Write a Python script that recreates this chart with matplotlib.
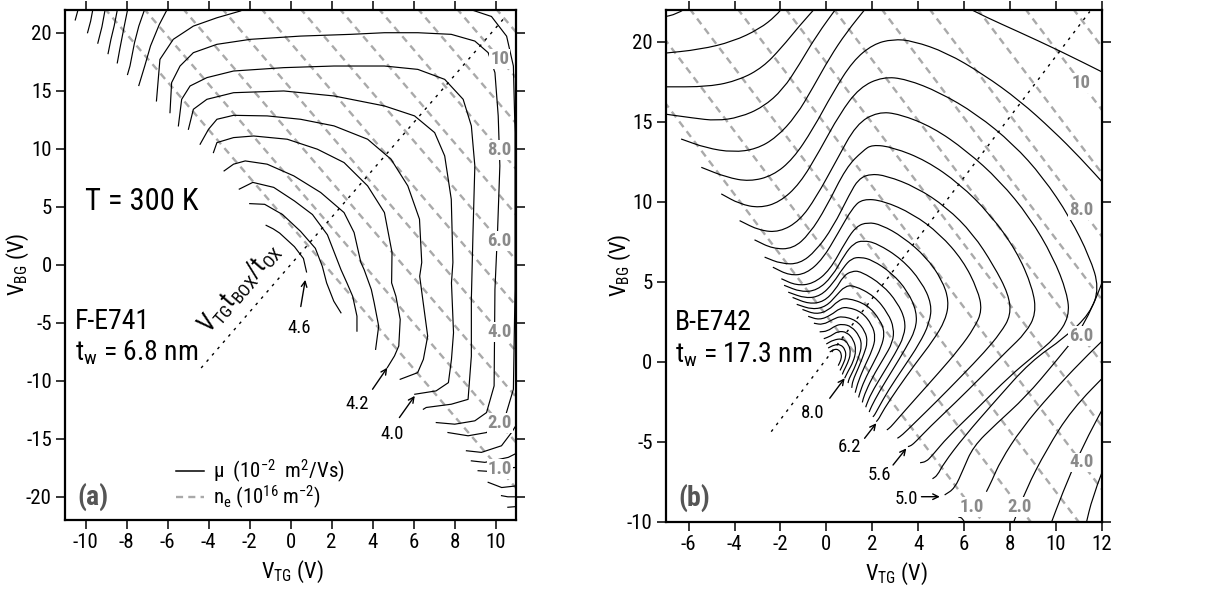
import numpy as np
import matplotlib
matplotlib.use('Agg')
import matplotlib.pyplot as plt
from matplotlib import font_manager
from matplotlib.path import Path
from matplotlib.patches import PathPatch

names = {f.name for f in font_manager.fontManager.ttflist}
FONT, FS = 'Liberation Sans', 0.92
for cand in ['Liberation Sans Narrow', 'Arial Narrow', 'Roboto Condensed']:
    if cand in names:
        FONT, FS = cand, 1.0
        break
plt.rcParams['font.family'] = [FONT, 'DejaVu Sans']
plt.rcParams['mathtext.fontset'] = 'custom'
plt.rcParams['mathtext.rm'] = FONT
plt.rcParams['mathtext.it'] = FONT + ':italic'
plt.rcParams['mathtext.bf'] = FONT + ':bold'
plt.rcParams['axes.unicode_minus'] = False

# ---------------- panel (a) data : mobility contours (V_TG, V_BG) ----------------
a_k01 = [(-1.19,3.40),(-0.85,3.1),(-0.53,2.73),(0.19,1.56),(0.63,0.54),(0.78,-0.62)]
a_k02 = [(-1.99,5.27),(-1.26,5.21),(-0.39,4.33),(0.49,2.88),(1.21,1.42),(1.55,-0.13),(1.76,-1.56),(2.11,-3.14),(2.46,-4.14)]
a_k03 = [(-2.5,6.52),(-1.84,7.1),(-0.82,6.67),(0.19,5.5),(1.07,4.33),(1.8,2.58),(2.46,-0.42),(2.75,-1.56),(3.03,-2.71),(3.24,-4.43),(3.24,-5.72)]
a_k04 = [(-3.24,8.09),(-2.78,8.67),(-2.21,8.95),(-1.14,8.67),(0.16,7.66),(1.47,6.23),(2.61,4.5),(3.1,2.78),(3.43,0.2),(3.59,-0.42),(3.94,-2.13),(4.08,-3.28),(4.3,-5.29),(4.15,-7.29)]
a_k05 = [(-3.76,9.67),(-3.59,10.53),(-2.78,10.96),(-1.8,11.1),(-0.16,10.82),(1.31,9.96),(2.61,8.81),(3.76,6.8),(4.58,4.5),(4.95,1.06),(4.93,-1.56),(5.14,-2.71),(5.35,-4.71),(5.28,-7.0),(5.07,-7.86),(4.72,-8.87)]
a_k06 = [(-4.41,10.39),(-4.0,11.68),(-3.59,12.54),(-2.78,12.88),(-1.14,12.83),(0.49,12.54),(2.12,11.97),(3.76,10.82),(4.9,9.1),(5.72,6.8),(6.29,3.93),(6.4,0.2),(6.3,-0.99),(6.45,-2.99),(6.69,-6.15),(6.48,-8.15),(6.2,-9.3),(5.35,-9.87)]
a_k07 = [(-4.98,11.68),(-4.74,13.4),(-4.08,14.26),(-2.78,14.83),(-0.33,14.98),(2.12,14.55),(4.58,13.69),(6.05,12.83),(7.03,11.39),(7.52,9.38),(7.84,5.65),(7.92,0.2),(7.85,-1.56),(7.95,-5.86),(7.85,-8.15),(7.7,-10.16),(7.1,-10.87),(6.06,-11.16)]
a_k08 = [(-5.47,11.97),(-5.31,14.26),(-4.9,15.41),(-4.08,16.13),(-2.78,16.7),(-0.33,16.99),(2.12,17.13),(4.58,17.13),(6.21,16.84),(7.52,15.98),(8.42,14.26),(8.82,11.97),(8.99,8.52),(8.9,2.78),(8.82,-2.96),(8.82,-7.87),(8.66,-11.6),(7.84,-12.02),(6.62,-12.3),(6.48,-12.45)]
a_k09 = [(-5.88,13.11),(-5.8,15.7),(-5.39,17.13),(-4.74,18.28),(-3.59,19.0),(-1.96,19.43),(0.49,19.71),(2.94,19.86),(4.58,20.0),(6.21,20.0),(7.84,19.86),(8.99,19.28),(9.64,18.28),(9.97,16.56),(10.13,12.83),(10.21,8.52),(10.1,3.0),(9.97,-2.13),(9.93,-10.44),(9.56,-12.74),(8.99,-13.45),(8.01,-13.74),(7.11,-13.6)]
a_k10l = [(-6.54,14.12),(-6.37,17.7),(-5.72,19.43),(-4.74,20.57),(-3.59,21.29),(-2.45,21.87),(-1.8,22.4)]
a_k10r = [(8.3,22.4),(8.66,22.07),(9.8,21.4),(10.54,19.7),(10.87,17.13),(10.95,11.4),(10.95,2.8),(10.95,-2.13),(10.87,-10.73),(10.46,-13.17),(9.56,-14.46),(8.66,-14.74),(7.68,-14.46)]
a_k11 = [(-5.9,22.4),(-6.4,20.71),(-6.83,18.86),(-7.11,17.14),(-7.4,15.45)]
a_k12 = [(-7.04,22.4),(-7.4,20.57),(-7.61,19.14),(-7.83,17.14),(-7.95,16.4)]
a_k13 = [(-7.9,22.4),(-8.11,20.57),(-8.33,18.57),(-8.45,17.4)]
a_k14 = [(-8.4,22.4),(-8.6,20.6),(-8.76,19.43),(-8.9,18.2)]
a_k15 = [(-9.0,22.4),(-9.2,20.5),(-9.4,19.1)]
a_k16 = [(-9.6,22.4),(-9.75,21.0),(-9.9,20.0)]
a_k17 = [(-10.3,22.4),(-10.5,21.1)]
a_k18 = [(11.3,-13.0),(10.78,-14.46),(10.29,-15.6),(9.31,-16.17),(8.58,-16.03)]
a_k19 = [(11.3,-16.0),(10.62,-16.6),(9.48,-17.03),(8.82,-16.9)]
a_k20 = [(11.3,-17.4),(10.3,-17.6),(9.6,-17.8),(9.15,-17.75)]
a_k21 = [(11.3,-19.0),(10.3,-19.2),(9.64,-18.75)]
a_k22 = [(11.3,-20.0),(10.6,-20.0),(10.29,-19.9)]
a_k23 = [(11.3,-20.8),(10.6,-20.9)]

# carrier density lines n_e (10^16 m^-2), panel (a)
a_ne_levels = [1, 2, 3, 4, 5, 6, 7, 8, 9, 10, 11]
a_ne_ref_x = 10.2          # V_TG where the n=1 line has V_BG = a_ne_ref_y
a_ne_ref_y = -17.6
a_ne_step = 3.93           # V_BG shift per 1e16 m^-2
a_ne_slope = -2.06
a_ne_label_n = [1, 2, 4, 6, 8, 10]
a_ne_label_txt = ['1.0', '2.0', '4.0', '6.0', '8.0', '10']
a_ratio = 2.04             # t_BOX / t_OX
a_diag_x = [-4.36, 10.46]

# ---------------- panel (b) data ----------------
b_c40 = [(-7.2,21.5),(-6.5,21.72),(-5.9,22.3)]
b_c42 = [(-7.2,19.25),(-5.5,19.5),(-4.07,20.0),(-2.9,20.8),(-2.2,21.6),(-1.8,22.3)]
b_c44 = [(-7.2,17.17),(-5.1,17.17),(-3.78,17.6),(-2.76,18.4),(-1.96,19.6),(-1.16,21.0),(-0.35,22.3)]
b_c46 = [(-7.2,15.5),(-5.8,15.22),(-4.8,15.05),(-3.78,15.26),(-2.76,15.9),(-1.89,17.0),(-1.16,18.6),(-0.44,20.35),(0.55,22.3)]
b_c48 = [(-6.33,13.91),(-5.24,13.35),(-4.07,13.08),(-3.05,13.28),(-2.18,14.0),(-1.31,15.36),(-0.58,17.13),(0.15,19.0),(0.87,20.56),(1.85,22.3)]
b_c48r = [(5.9,22.3),(7.0,21.5),(8.29,20.67),(10.18,19.42),(12.3,17.9)]
b_c50 = [(-5.45,12.14),(-4.36,11.52),(-3.35,11.25),(-2.33,11.62),(-1.45,12.66),(-0.58,14.53),(0.29,16.82),(1.16,18.79),(2.04,19.83),(2.9,20.15),(3.78,20.04),(5.24,19.31),(6.84,17.96),(8.44,16.3),(9.89,14.43),(11.05,12.77),(12.3,10.8)]
b_c50low = [(12.4,6.3),(11.3,2.3),(10.0,0.0),(8.7,-2.2),(7.4,-3.9),(6.4,-5.31),(5.96,-6.77),(5.6,-7.92),(5.16,-8.33)]
b_c52 = [(-4.58,10.48),(-3.78,9.85),(-2.91,9.6),(-2.04,9.96),(-1.16,11.1),(-0.29,13.18),(0.58,15.47),(1.45,17.13),(2.47,17.8),(3.49,17.65),(4.95,16.82),(6.55,15.47),(8.15,13.6),(9.45,11.52),(10.62,9.02),(11.49,6.53),(11.9,4.6),(11.5,3.0),(10.4,1.5),(8.9,0.0),(7.4,-2.4),(6.0,-4.7),(5.1,-6.4),(4.85,-7.1),(4.63,-7.32)]
b_c54 = [(-3.78,8.81),(-2.91,8.19),(-2.04,8.09),(-1.16,8.81),(-0.44,10.27),(0.44,12.56),(1.31,14.84),(2.25,15.61),(3.2,15.47),(4.65,14.64),(6.11,13.18),(7.56,11.31),(8.87,9.02),(9.89,6.53),(10.5,4.3),(10.6,2.8),(10.0,1.5),(9.0,0.3),(8.0,-0.9),(6.6,-2.9),(5.3,-4.7),(4.6,-5.9),(4.35,-6.25),(4.09,-6.32)]
b_c56 = [(-3.13,7.61),(-2.33,7.05),(-1.45,7.05),(-0.73,7.98),(0.0,9.65),(0.87,12.14),(1.6,13.18),(2.0,13.56),(2.91,13.39),(4.36,12.56),(5.82,11.1),(7.13,9.23),(8.29,6.94),(9.0,4.6),(9.15,3.0),(8.7,1.8),(7.9,0.7),(6.8,-0.9),(5.6,-2.6),(4.5,-4.1),(3.9,-5.0),(3.7,-5.25),(3.56,-5.31)]
b_c58 = [(-2.69,6.53),(-1.96,6.11),(-1.16,6.11),(-0.44,6.94),(0.29,8.4),(1.02,10.48),(1.4,11.4),(1.9,11.73),(2.62,11.62),(3.93,10.89),(5.24,9.65),(6.4,7.98),(7.3,6.0),(7.95,4.2),(8.05,2.9),(7.6,1.8),(6.9,0.6),(5.9,-0.9),(4.8,-2.5),(3.8,-3.9),(3.3,-4.6),(3.1,-4.79)]
b_c60 = [(-2.33,5.9),(-1.6,5.38),(-0.87,5.49),(-0.15,6.42),(0.5,8.0),(1.16,9.65),(1.6,10.17),(2.47,10.06),(3.78,9.23),(4.95,7.98),(5.96,6.32),(6.6,4.5),(6.8,3.2),(6.45,2.1),(5.8,0.8),(4.9,-0.7),(3.9,-2.3),(3.1,-3.6),(2.8,-4.1),(2.64,-4.27)]
b_c62 = [(-1.96,5.18),(-1.31,4.76),(-0.58,4.86),(0.15,5.7),(0.87,7.57),(1.31,8.45),(1.8,8.71),(2.4,8.55),(3.35,7.78),(4.36,6.53),(5.05,5.1),(5.35,3.8),(5.2,2.6),(4.65,1.3),(3.9,-0.1),(3.1,-1.7),(2.5,-3.0),(2.3,-3.55),(2.18,-3.75)]
b_c64 = [(-1.84,4.77),(-1.1,4.35),(-0.4,4.45),(0.25,5.3),(0.8,6.7),(1.2,7.4),(1.6,7.57),(2.2,7.4),(3.3,6.4),(4.15,5.0),(4.6,3.6),(4.5,2.4),(4.05,1.1),(3.4,-0.3),(2.7,-1.8),(2.25,-2.95),(2.1,-3.35),(2.03,-3.45)]
b_c66 = [(-1.66,4.34),(-0.9,3.95),(-0.25,4.1),(0.3,4.9),(0.75,5.9),(1.1,6.45),(1.5,6.53),(2.0,6.35),(2.85,5.55),(3.55,4.4),(3.95,3.1),(3.9,2.0),(3.45,0.8),(2.9,-0.5),(2.3,-1.9),(1.95,-2.85),(1.87,-3.15)]
b_c68 = [(-1.47,4.01),(-0.75,3.6),(-0.1,3.75),(0.4,4.5),(0.75,5.35),(1.1,5.65),(1.5,5.65),(2.45,4.8),(3.1,3.7),(3.45,2.6),(3.4,1.6),(3.0,0.5),(2.45,-0.8),(1.95,-2.0),(1.75,-2.7),(1.72,-2.85)]
b_c70 = [(-1.29,3.58),(-0.6,3.25),(0.0,3.45),(0.45,4.15),(0.8,4.7),(1.2,4.77),(2.1,4.1),(2.7,3.0),(2.95,2.1),(2.9,1.2),(2.5,0.2),(2.0,-1.0),(1.65,-2.1),(1.57,-2.55)]
b_c72 = [(-1.04,3.26),(-0.45,2.95),(0.1,3.2),(0.5,3.8),(0.9,4.0),(1.8,3.55),(2.35,2.6),(2.55,1.8),(2.4,0.9),(2.05,-0.1),(1.65,-1.2),(1.45,-2.0),(1.41,-2.24)]
b_c74 = [(-0.79,2.83),(-0.3,2.6),(0.2,2.9),(0.6,3.35),(0.95,3.4),(1.55,3.1),(2.0,2.3),(2.15,1.5),(2.0,0.7),(1.7,-0.2),(1.4,-1.2),(1.26,-1.94)]
b_c76 = [(-0.54,2.4),(-0.15,2.3),(0.3,2.65),(0.65,2.85),(1.3,2.6),(1.7,1.9),(1.8,1.2),(1.65,0.5),(1.4,-0.4),(1.15,-1.2),(1.11,-1.64)]
b_c78 = [(-0.29,1.86),(0.05,1.9),(0.4,2.25),(0.7,2.35),(1.1,2.2),(1.45,1.6),(1.55,1.0),(1.42,0.3),(1.2,-0.5),(0.98,-1.1),(0.95,-1.34)]
b_c80 = [(-0.11,1.43),(0.2,1.6),(0.5,1.9),(0.9,1.85),(1.2,1.35),(1.3,0.7),(1.18,0.0),(0.95,-0.6),(0.8,-1.04)]
b_c82 = [(0.0,1.1),(0.3,1.35),(0.7,1.45),(0.98,1.1),(1.07,0.5),(0.93,-0.1),(0.75,-0.6),(0.7,-0.8)]
b_c84 = [(0.08,0.85),(0.35,1.05),(0.62,1.08),(0.83,0.75),(0.86,0.3),(0.72,-0.2),(0.6,-0.55)]
b_c86 = [(0.15,0.6),(0.35,0.78),(0.55,0.75),(0.67,0.45),(0.64,0.1),(0.52,-0.25)]
b_c48low = [(12.4,1.8),(11.1,0.0),(9.8,-2.0),(8.5,-4.2),(7.6,-6.2),(7.2,-7.5),(6.98,-8.13)]
b_c46low = [(8.1,-10.3),(8.7,-8.0),(9.6,-5.5),(10.7,-3.0),(12.4,-0.5)]
b_c44low = [(9.75,-10.3),(10.3,-8.2),(11.1,-5.5),(12.4,-2.0)]
b_c42low = [(11.3,-10.3),(11.6,-8.5),(12.4,-5.5)]
b_tiny = [(5.75,-9.7),(5.95,-9.78),(6.1,-10.3)]

b_ne_levels = [1, 2, 3, 4, 5, 6, 7, 8, 9, 10, 11]
b_ne_ref_x = 11.13
b_ne_ref_y0 = -22.1       # V_BG of n=0 at ref x
b_ne_step = 3.95
b_ne_slope = -1.89
b_ne_right_n = [4, 6, 8, 10]
b_ne_bottom_n = [1, 2]
b_ne_bottom_y = -9.06
b_ratio = 1.89
b_offset = 0.16
b_diag_x = [-2.4, 11.49]

# ---------------- figure ----------------
fig = plt.figure(figsize=(12.22, 5.91), dpi=100)
axa = fig.add_axes([0.0532, 0.1201, 0.3691, 0.8638])
axb = fig.add_axes([0.5448, 0.1173, 0.3566, 0.8666])

CONT_LW = 0.85
DASH_C = '#a9a9a9'
LAB_C = '#8a8a8a'
TICK_FS = 15 * FS
AX_FS = 16 * FS
BIG_FS = 20 * FS
NUM_FS = 13.5 * FS


def smooth_path(pts):
    p = np.asarray(pts, float)
    if len(p) < 3:
        return Path(p)
    verts = [p[0], (p[0] + p[1]) / 2]
    codes = [Path.MOVETO, Path.LINETO]
    for i in range(1, len(p) - 1):
        verts += [p[i], (p[i] + p[i + 1]) / 2]
        codes += [Path.CURVE3, Path.CURVE3]
    verts.append(p[-1])
    codes.append(Path.LINETO)
    return Path(verts, codes)


def style_axes(ax, xlim, ylim, xt, yt):
    ax.set_xlim(*xlim)
    ax.set_ylim(*ylim)
    ax.set_xticks(xt)
    ax.set_yticks(yt)
    ax.tick_params(direction='out', length=6.5, width=1.1, top=True, right=True,
                   labeltop=False, labelright=False, labelsize=TICK_FS, pad=3)
    for s in ax.spines.values():
        s.set_linewidth(1.6)


style_axes(axa, (-11, 11), (-22, 22), np.arange(-10, 11, 2), np.arange(-20, 21, 5))
style_axes(axb, (-7, 12), (-10, 22), np.arange(-6, 13, 2), np.arange(-10, 21, 5))

# ---- panel a ----
xx = np.array([-13.0, 13.0])
for n in a_ne_levels:
    yy = a_ne_ref_y + a_ne_step * (n - 1) + a_ne_slope * (xx - a_ne_ref_x)
    axa.plot(xx, yy, color=DASH_C, lw=1.7, ls=(0, (3, 2.2)), zorder=1)
for n, t in zip(a_ne_label_n, a_ne_label_txt):
    ly = a_ne_ref_y + a_ne_step * (n - 1)
    axa.text(a_ne_ref_x, ly, t, color=LAB_C, fontsize=NUM_FS, fontweight='bold',
             ha='center', va='center', zorder=5,
             bbox=dict(boxstyle='square,pad=0.05', fc='white', ec='none'))

a_contours = [a_k01, a_k02, a_k03, a_k04, a_k05, a_k06, a_k07, a_k08, a_k09, a_k10l, a_k10r,
              a_k11, a_k12, a_k13, a_k14, a_k15, a_k16, a_k17, a_k18, a_k19, a_k20, a_k21,
              a_k22, a_k23]
for c in a_contours:
    c = np.asarray(c)
    axa.plot(c[:, 0], c[:, 1], color='black', lw=CONT_LW, zorder=3)

dx = np.array(a_diag_x)
axa.plot(dx, a_ratio * dx, color='black', lw=1.0, ls=(0, (2, 4)), zorder=3)
ang = np.degrees(np.arctan(a_ratio * (0.8638 * 5.91 / 44) / (0.3691 * 12.22 / 22)))
axa.text(-2.45, -2.0, r'V$_{\rm TG}$t$_{\rm BOX}$/t$_{\rm OX}$', fontsize=18 * FS, rotation=ang,
         rotation_mode='anchor', ha='center', va='center', zorder=4)

axa.text(0.044, 0.623, 'T = 300 K', transform=axa.transAxes, fontsize=22 * FS, va='center')
axa.text(0.022, 0.388, 'F-E741', transform=axa.transAxes, fontsize=BIG_FS, va='center')
axa.text(0.022, 0.327, r't$_{\rm w}$ = 6.8 nm', transform=axa.transAxes, fontsize=BIG_FS, va='center')
axa.text(0.027, 0.045, '(a)', transform=axa.transAxes, fontsize=BIG_FS, fontweight='bold',
         color='#555555', va='center')

# legend
axa.plot([0.246, 0.308], [0.096, 0.096], transform=axa.transAxes, color='black', lw=1.1)
axa.plot([0.246, 0.308], [0.045, 0.045], transform=axa.transAxes, color=DASH_C, lw=1.7,
         ls=(0, (3, 2.2)))
axa.text(0.328, 0.096, r'μ  (10$^{-2}$  m$^{2}$/Vs)', transform=axa.transAxes, fontsize=TICK_FS,
         va='center')
axa.text(0.328, 0.045, r'n$_{\rm e}$ (10$^{16}$ m$^{-2}$)', transform=axa.transAxes, fontsize=TICK_FS,
         va='center')

arrow = dict(arrowstyle='->', color='black', lw=1.0, shrinkA=0, shrinkB=0)
axa.annotate('', xy=(0.72, -1.3), xytext=(0.5, -3.6), arrowprops=arrow)
axa.text(0.41, -5.43, '4.6', fontsize=NUM_FS, ha='center', va='center')
axa.annotate('', xy=(4.72, -8.87), xytext=(4.0, -10.73), arrowprops=arrow)
axa.text(3.27, -12.02, '4.2', fontsize=NUM_FS, ha='center', va='center')
axa.annotate('', xy=(6.06, -11.3), xytext=(5.31, -13.17), arrowprops=arrow)
axa.text(4.98, -14.6, '4.0', fontsize=NUM_FS, ha='center', va='center')

axa.set_xlabel(r'V$_{\rm TG}$ (V)', fontsize=AX_FS)
axa.set_ylabel(r'V$_{\rm BG}$ (V)', fontsize=AX_FS)
axa.xaxis.set_label_coords(0.505, -0.076)
axa.yaxis.set_label_coords(-0.076, 0.5)

# ---- panel b ----
xx = np.array([-9.0, 14.0])
for n in b_ne_levels:
    yy = b_ne_ref_y0 + b_ne_step * n + b_ne_slope * (xx - b_ne_ref_x)
    axb.plot(xx, yy, color=DASH_C, lw=1.7, ls=(0, (3, 2.2)), zorder=1)
for n in b_ne_right_n:
    ly = b_ne_ref_y0 + b_ne_step * n
    axb.text(b_ne_ref_x, ly, '10' if n == 10 else f'{n:.1f}', color=LAB_C, fontsize=NUM_FS,
             fontweight='bold', ha='center', va='center', zorder=5,
             bbox=dict(boxstyle='square,pad=0.05', fc='white', ec='none'))
for n in b_ne_bottom_n:
    lx = b_ne_ref_x + (b_ne_bottom_y - b_ne_ref_y0 - b_ne_step * n) / b_ne_slope
    axb.text(lx, b_ne_bottom_y, f'{n:.1f}', color=LAB_C, fontsize=NUM_FS, fontweight='bold',
             ha='center', va='center', zorder=5,
             bbox=dict(boxstyle='square,pad=0.05', fc='white', ec='none'))

b_contours = [b_c40, b_c42, b_c44, b_c46, b_c48, b_c48r, b_c50, b_c50low, b_c52, b_c54, b_c56,
              b_c58, b_c60, b_c62, b_c64, b_c66, b_c68, b_c70, b_c72, b_c74, b_c76, b_c78,
              b_c80, b_c82, b_c84, b_c86, b_c48low, b_c46low, b_c44low, b_c42low, b_tiny]
for c in b_contours:
    patch = PathPatch(smooth_path(c), fill=False, ec='black', lw=CONT_LW, zorder=3)
    axb.add_patch(patch)

dx = np.array(b_diag_x)
axb.plot(dx, b_ratio * dx + b_offset, color='black', lw=1.0, ls=(0, (2, 4)), zorder=3)

axb.text(0.021, 0.388, 'B-E742', transform=axb.transAxes, fontsize=BIG_FS, va='center')
axb.text(0.021, 0.325, r't$_{\rm w}$ = 17.3 nm', transform=axb.transAxes, fontsize=BIG_FS, va='center')
axb.text(0.028, 0.046, '(b)', transform=axb.transAxes, fontsize=BIG_FS, fontweight='bold',
         color='#555555', va='center')

axb.annotate('', xy=(0.8, -1.04), xytext=(0.15, -2.29), arrowprops=arrow)
axb.text(-0.58, -3.23, '8.0', fontsize=NUM_FS, ha='center', va='center')
axb.annotate('', xy=(2.18, -3.85), xytext=(1.67, -4.79), arrowprops=arrow)
axb.text(1.02, -5.31, '6.2', fontsize=NUM_FS, ha='center', va='center')
axb.annotate('', xy=(3.49, -5.42), xytext=(2.91, -6.46), arrowprops=arrow)
axb.text(2.33, -7.08, '5.6', fontsize=NUM_FS, ha='center', va='center')
axb.annotate('', xy=(4.95, -8.44), xytext=(4.15, -8.44), arrowprops=arrow)
axb.text(3.49, -8.6, '5.0', fontsize=NUM_FS, ha='center', va='center')

axb.set_xlabel(r'V$_{\rm TG}$ (V)', fontsize=AX_FS)
axb.set_ylabel(r'V$_{\rm BG}$ (V)', fontsize=AX_FS)
axb.xaxis.set_label_coords(0.53, -0.076)
axb.yaxis.set_label_coords(-0.076, 0.5)

fig.savefig('out.png', dpi=100)
